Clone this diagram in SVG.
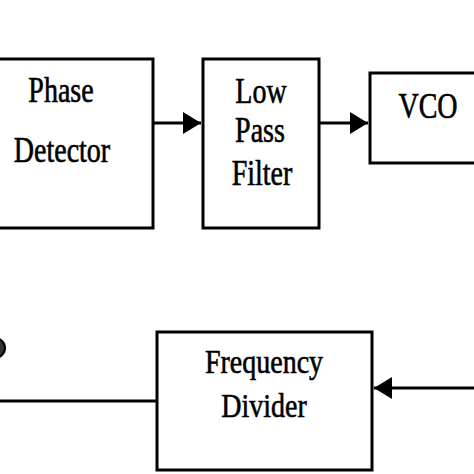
<svg xmlns="http://www.w3.org/2000/svg" width="474" height="474" viewBox="0 0 474 474">
<style>
.box{fill:#fff;stroke:#000;stroke-width:3}
.wire{fill:none;stroke:#000;stroke-width:3}
.lbl{font-family:"Liberation Serif","Times New Roman",serif;font-size:28px;fill:#000;stroke:#000;stroke-width:0.5;text-anchor:middle}
</style>
<defs>
<marker id="ah" markerUnits="userSpaceOnUse" markerWidth="19" markerHeight="23" refX="18" refY="11" orient="auto">
<path d="M0,0 L18,11 L0,22 z" fill="#000"/>
</marker>
</defs>
<rect width="474" height="474" fill="#fff"/>
<g id="phase-detector">
<rect class="box" x="-5" y="59" width="158" height="169"/>
<text class="lbl" transform="translate(61,102) scale(1,1.27)">Phase</text>
<text class="lbl" transform="translate(62,162) scale(1,1.27)">Detector</text>
</g>
<g id="low-pass-filter">
<rect class="box" x="203" y="59" width="116" height="169"/>
<text class="lbl" transform="translate(261,103) scale(1,1.27)">Low</text>
<text class="lbl" transform="translate(260,142) scale(1,1.27)">Pass</text>
<text class="lbl" transform="translate(262,185) scale(1,1.27)">Filter</text>
</g>
<g id="vco">
<rect class="box" x="370" y="73" width="130" height="90"/>
<text class="lbl" transform="translate(428,118) scale(1,1.27)">VCO</text>
</g>
<g id="frequency-divider">
<rect class="box" x="157" y="332" width="215" height="138"/>
<text class="lbl" transform="translate(264,373) scale(1,1.22)">Frequency</text>
<text class="lbl" transform="translate(264,417) scale(1,1.22)">Divider</text>
</g>
<g id="summing-junction">
<circle cx="-5" cy="348" r="10" fill="#333" stroke="#000" stroke-width="2"/>
</g>
<g id="connectors">
<line class="wire" x1="153" y1="123" x2="201" y2="123" marker-end="url(#ah)"/>
<line class="wire" x1="319" y1="123" x2="368" y2="123" marker-end="url(#ah)"/>
<line class="wire" x1="480" y1="388" x2="374" y2="388" marker-end="url(#ah)"/>
<line class="wire" x1="0" y1="401" x2="157" y2="401"/>
</g>
</svg>
